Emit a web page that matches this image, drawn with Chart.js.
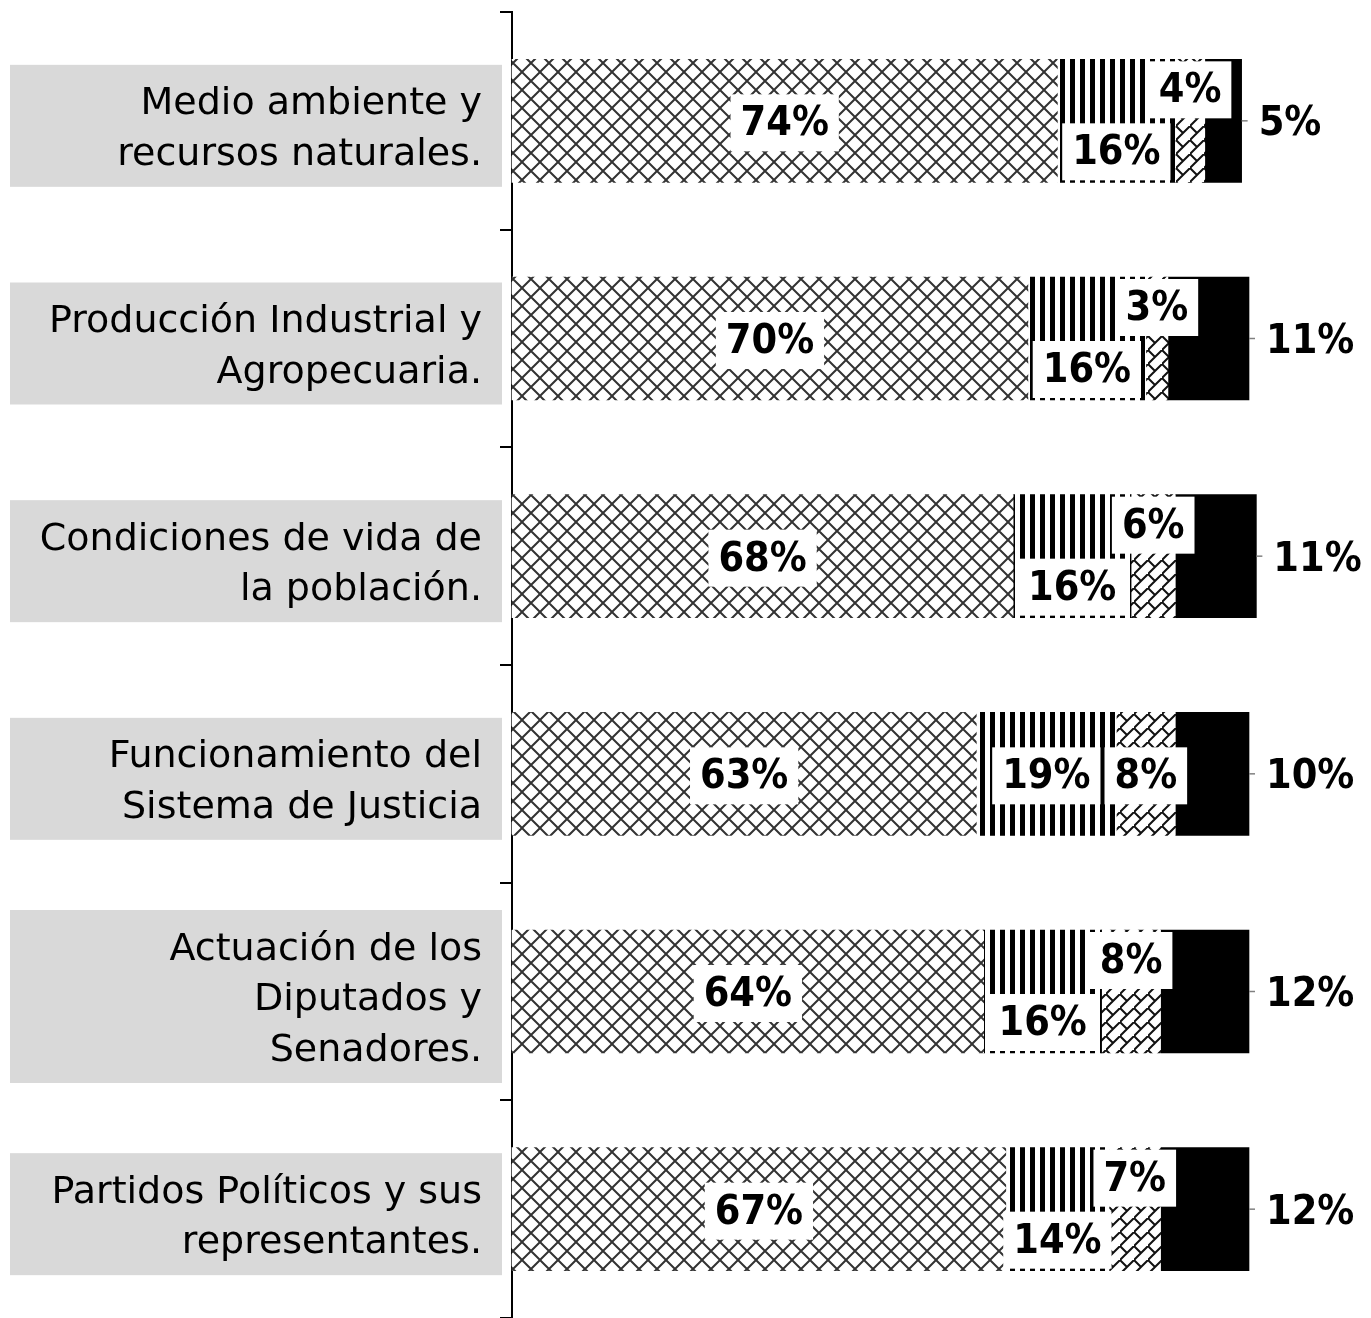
<!DOCTYPE html>
<html><head><meta charset="utf-8">
<script src="https://cdn.jsdelivr.net/npm/chart.js@4.4.1/dist/chart.umd.min.js"></script>
<style>html,body{margin:0;padding:0;background:#fff}#wrap{width:1371px;height:1318px;position:relative}</style>
</head><body><div id="wrap"><canvas id="c" width="1371" height="1318"></canvas></div>
<script>
const categories = [
  ['Medio ambiente y', 'recursos naturales.'],
  ['Producción Industrial y', 'Agropecuaria.'],
  ['Condiciones de vida de', 'la población.'],
  ['Funcionamiento del', 'Sistema de Justicia'],
  ['Actuación de los', 'Diputados y', 'Senadores.'],
  ['Partidos Políticos y sus', 'representantes.']
];
const seriesNames = ['Serie 1', 'Serie 2', 'Serie 3', 'Serie 4'];
const series1 = [74, 70, 68, 63, 64, 67];
const series2 = [16, 16, 16, 19, 16, 14];
const series3 = [4, 3, 6, 8, 8, 7];
const series4 = [5, 11, 11, 10, 12, 12];

const LABEL_FONT = "bold 41px 'DejaVu Sans Condensed', 'DejaVu Sans', sans-serif";

function makeTile(S, draw) {
  const c = document.createElement('canvas');
  c.width = S; c.height = S;
  const g = c.getContext('2d');
  g.fillStyle = '#fff'; g.fillRect(0, 0, S, S);
  draw(g, S);
  return document.getElementById('c').getContext('2d').createPattern(c, 'repeat');
}
const patDiamond = makeTile(18, (g, S) => {
  g.strokeStyle = '#333'; g.lineWidth = 2;
  g.beginPath();
  g.moveTo(-3, -3); g.lineTo(S + 3, S + 3);
  g.moveTo(S + 3, -3); g.lineTo(-3, S + 3);
  g.stroke();
});
const patStripe = makeTile(10, (g, S) => {
  g.fillStyle = '#000'; g.fillRect(0, 0, 5, S);
});
const patBrick = makeTile(14, (g, S) => {
  g.strokeStyle = '#111'; g.lineWidth = 2;
  g.beginPath();
  g.moveTo(-3, S + 3); g.lineTo(S + 3, -3);
  g.moveTo(0, 0); g.lineTo(S / 2, S / 2);
  g.stroke();
});

const bgPlugin = {
  id: 'bg',
  beforeDraw(chart) {
    const ctx = chart.ctx;
    ctx.save();
    ctx.fillStyle = '#fff';
    ctx.fillRect(0, 0, chart.width, chart.height);
    const ys = chart.scales.y;
    ctx.fillStyle = '#d9d9d9';
    chart.data.labels.forEach((lab, i) => {
      const y = ys.getPixelForValue(i) + 5;
      const h = lab.length * 51 + 20;
      ctx.fillRect(10, y - h / 2, 492, h);
    });
    ctx.restore();
  }
};

const labelPlugin = {
  id: 'lbl',
  afterDatasetsDraw(chart) {
    const ctx = chart.ctx;
    ctx.save();
    ctx.font = LABEL_FONT;
    ctx.textBaseline = 'middle';
    const BH = 57, PADX = 10;
    const n = chart.data.labels.length;
    for (let i = 0; i < n; i++) {
      const items = chart.data.datasets.map((ds, d) => ({
        el: chart.getDatasetMeta(d).data[i], txt: ds.data[i] + '%'
      }));
      const boxes = items.slice(0, 3).map(it => ({
        cx: (it.el.x + it.el.base) / 2,
        cy: it.el.y + 2,
        w: ctx.measureText(it.txt).width + PADX * 2,
        txt: it.txt
      }));
      const b1 = boxes[1], b2 = boxes[2];
      if (b1.cx + b1.w / 2 > b2.cx - b2.w / 2) { b1.cy += 29; b2.cy -= 33; }
      boxes.forEach(b => {
        ctx.fillStyle = '#fff';
        ctx.fillRect(b.cx - b.w / 2, b.cy - BH / 2, b.w, BH);
        ctx.fillStyle = '#000';
        ctx.textAlign = 'center';
        ctx.fillText(b.txt, b.cx, b.cy + 2);
      });
      const e = items[3].el;
      ctx.strokeStyle = '#808080'; ctx.lineWidth = 1.5;
      ctx.beginPath(); ctx.moveTo(e.x, e.y); ctx.lineTo(e.x + 6, e.y); ctx.stroke();
      ctx.fillStyle = '#000'; ctx.textAlign = 'left';
      ctx.fillText(items[3].txt, e.x + 17, e.y + 4);
    }
    ctx.restore();
  }
};

new Chart(document.getElementById('c'), {
  type: 'bar',
  data: {
    labels: categories,
    datasets: [
      { label: seriesNames[0], data: series1, backgroundColor: patDiamond },
      { label: seriesNames[1], data: series2, backgroundColor: patStripe },
      { label: seriesNames[2], data: series3, backgroundColor: patBrick },
      { label: seriesNames[3], data: series4, backgroundColor: '#000' }
    ]
  },
  options: {
    indexAxis: 'y',
    responsive: false,
    animation: false,
    layout: { padding: { top: 12, right: 122, bottom: 0, left: 0 } },
    datasets: { bar: { barThickness: 123, borderWidth: 0, clip: false } },
    plugins: { legend: { display: false }, tooltip: { enabled: false } },
    scales: {
      x: { stacked: true, min: 0, max: 100, display: false },
      y: {
        stacked: true,
        grid: { drawOnChartArea: false, color: '#000', lineWidth: 2, tickLength: 12, offset: true },
        border: { color: '#000', width: 2 },
        ticks: { color: '#000', autoSkip: false, padding: 18, labelOffset: 9,
                 font: { family: "'DejaVu Sans', sans-serif", size: 38, lineHeight: 1.33 } },
        afterFit(s) { s.width = 512; s.paddingTop = 0; s.paddingBottom = 0; }
      }
    }
  },
  plugins: [bgPlugin, labelPlugin]
});
</script></body></html>
